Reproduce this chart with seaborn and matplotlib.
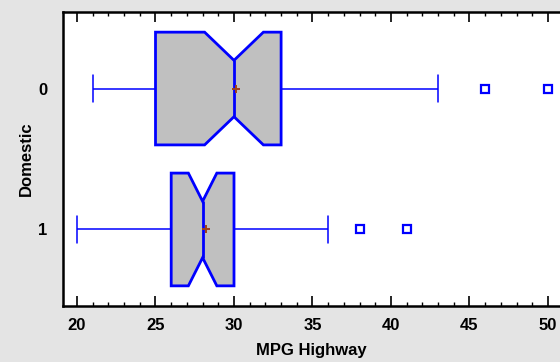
import matplotlib
matplotlib.use("Agg")
import matplotlib.pyplot as plt
import seaborn as sns
import pandas as pd
from matplotlib.ticker import MultipleLocator

# MPG Highway values, group Domestic = 0 (n=45)
mpg_domestic_0 = [21, 22, 22, 23, 23, 24, 24, 25, 25, 25, 25,
                  25,
                  26, 26, 27, 28, 28, 29, 29, 29, 30, 30,
                  30,
                  30, 30, 30, 31, 31, 31, 32, 32, 33, 33,
                  33,
                  33, 33, 33, 34, 34, 35, 36, 37, 43, 46, 50]
# MPG Highway values, group Domestic = 1 (n=48)
mpg_domestic_1 = [20, 21, 22, 23, 24, 24, 25, 25, 25, 26, 26,
                  26, 26,
                  26, 26, 27, 27, 27, 27, 28, 28, 28, 28,
                  28, 28,
                  28, 28, 28, 28, 29, 29, 29, 30, 30, 30,
                  30, 30,
                  30, 30, 30, 31, 31, 32, 33, 33, 36, 38, 41]
categories = ["0", "1"]
x_ticks = [20, 25, 30, 35, 40, 45, 50]

df = pd.DataFrame({
    "MPG Highway": mpg_domestic_0 + mpg_domestic_1,
    "Domestic": [categories[0]] * len(mpg_domestic_0) + [categories[1]] * len(mpg_domestic_1),
})

sns.set_style("white")
plt.rcParams["font.family"] = ["Liberation Sans", "DejaVu Sans"]

fig = plt.figure(figsize=(5.6, 3.62), dpi=100, facecolor="#E4E4E4")
ax = fig.add_axes([63 / 560, (362 - 306) / 362, (560 - 63) / 560, 294 / 362])
ax.set_facecolor("white")

blue = "#0000FF"
sns.boxplot(
    data=df, x="MPG Highway", y="Domestic", order=categories, orient="h",
    ax=ax, width=0.8, notch=True, color="#C0C0C0",
    linecolor=blue, linewidth=1,
    boxprops=dict(facecolor="#C0C0C0", edgecolor=blue, linewidth=2),
    medianprops=dict(color=blue, linewidth=2),
    whiskerprops=dict(color=blue, linewidth=1.1),
    capprops=dict(color=blue, linewidth=1.1),
    flierprops=dict(marker="s", markersize=5.5, markerfacecolor="white",
                    markeredgecolor=blue, markeredgewidth=1.6),
    showmeans=True,
    meanprops=dict(marker="+", markersize=6, markeredgecolor="#A0401A",
                   markeredgewidth=1.4),
    capwidths=0.19,
)

ax.set_xlim(20 - 14 / 15.7, 50 + 12 / 15.7)
ax.set_ylim(1.543, -0.543)
ax.set_xticks(x_ticks)
ax.set_xticklabels([str(t) for t in x_ticks])
ax.xaxis.set_minor_locator(MultipleLocator(1))
ax.tick_params(axis="x", which="major", direction="in", length=7, width=1.2,
               top=True, bottom=True, labelsize=12, pad=9, color="black",
               labelcolor="black")
ax.tick_params(axis="x", which="minor", direction="in", length=3, width=1,
               top=True, bottom=True, color="black")
ax.tick_params(axis="y", which="both", length=0, labelsize=12, pad=11,
               labelcolor="black")
for lab in ax.get_xticklabels() + ax.get_yticklabels():
    lab.set_fontweight("bold")

ax.set_xlabel("MPG Highway", fontsize=12, fontweight="bold", labelpad=7, color="black")
ax.set_ylabel("Domestic", fontsize=12, fontweight="bold", labelpad=3, color="black")

for side in ["left", "bottom", "top"]:
    ax.spines[side].set_visible(True)
    ax.spines[side].set_color("black")
    ax.spines[side].set_linewidth(1.8)
ax.spines["right"].set_visible(False)

fig.savefig("out.png", dpi=100, facecolor=fig.get_facecolor())
